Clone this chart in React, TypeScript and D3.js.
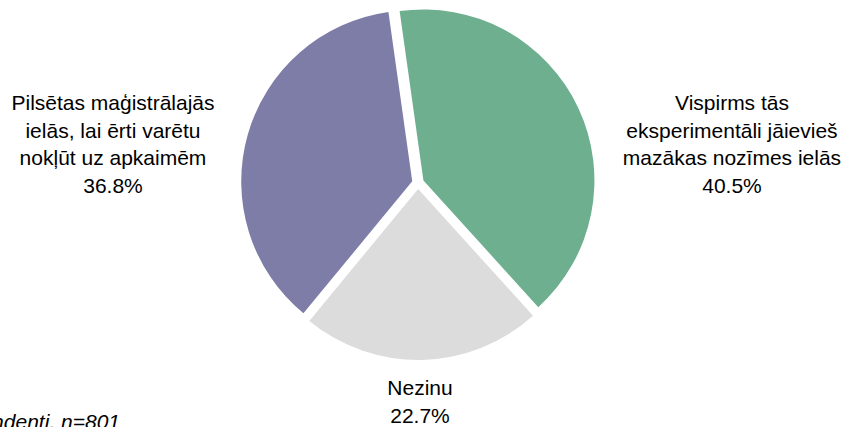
import { useMemo } from "react";
import * as d3 from "d3";

// survey answers, clockwise from the top
const categories = [
  "Vispirms tās eksperimentāli jāievieš mazākas nozīmes ielās",
  "Nezinu",
  "Pilsētas maģistrālajās ielās, lai ērti varētu nokļūt uz apkaimēm",
];
const values = [40.5, 22.7, 36.8];
const colors = ["#6daf8f", "#dcdcdc", "#7e7da8"];
const labelLines = [
  ["Vispirms tās", "eksperimentāli jāievieš", "mazākas nozīmes ielās"],
  ["Nezinu"],
  ["Pilsētas maģistrālajās", "ielās, lai ērti varētu", "nokļūt uz apkaimēm"],
];
const footnote = "Visi respondenti, n=801";

const W = 845;
const H = 427;
const cx = 418;
const cy = 183;
const R = 171;
const explode = 6;
const startDeg = -8;
const fontSize = 21;
const lineH = 27.5;
// label block anchors (center x, first baseline)
const labelPos = [
  { x: 732, y: 110 },
  { x: 420, y: 395 },
  { x: 113, y: 110 },
];

export default function App() {
  const slices = useMemo(() => {
    const start = (startDeg * Math.PI) / 180;
    const pie = d3
      .pie<number>()
      .sort(null)
      .value((d) => d)
      .startAngle(start)
      .endAngle(start + 2 * Math.PI);
    return pie(values);
  }, []);

  const arc = d3.arc<d3.PieArcDatum<number>>().innerRadius(0).outerRadius(R);

  return (
    <>
      <style>{`body{margin:0}`}</style>
      <svg width={W} height={H} style={{ display: "block" }} fontFamily="'Liberation Sans', Arial, sans-serif">
        <rect width={W} height={H} fill="#fff" />
        <g transform={`translate(${cx},${cy})`}>
          {slices.map((s, i) => {
            const mid = (s.startAngle + s.endAngle) / 2;
            const dx = Math.sin(mid) * explode;
            const dy = -Math.cos(mid) * explode;
            return (
              <path
                key={categories[i]}
                d={arc(s) || ""}
                transform={`translate(${dx},${dy})`}
                fill={colors[i]}
              />
            );
          })}
        </g>
        {labelLines.map((lines, i) => (
          <text
            key={i}
            x={labelPos[i].x}
            y={labelPos[i].y}
            textAnchor="middle"
            fontSize={fontSize}
            fill="#000"
          >
            {lines.map((l, j) => (
              <tspan key={j} x={labelPos[i].x} dy={j === 0 ? 0 : lineH}>
                {l}
              </tspan>
            ))}
            <tspan x={labelPos[i].x} dy={lineH}>
              {values[i].toFixed(1)}%
            </tspan>
          </text>
        ))}
        <text x={120} y={429} textAnchor="end" fontSize={21} fontStyle="italic" fill="#000">
          {footnote}
        </text>
      </svg>
    </>
  );
}
